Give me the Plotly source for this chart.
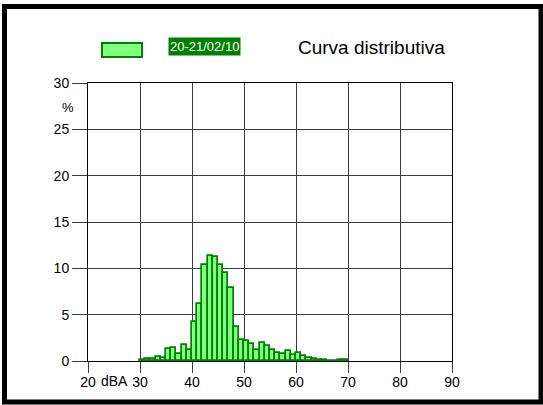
import plotly.graph_objects as go

# distribution in 1 dBA classes (lower edge), percentage of time
classes_dba = list(range(30, 70))
percent = [0.1, 0.2, 0.25, 0.4, 0.3, 1.3, 1.4, 0.8, 1.7, 1.2,
           4.2, 6.1, 10.4, 11.3, 11.2, 10.4, 9.5, 7.9, 3.7, 2.3,
           2.2, 1.8, 1.2, 1.9, 1.6, 1.2, 0.9, 0.8, 1.1, 0.7,
           0.85, 0.5, 0.3, 0.25, 0.15, 0.07, 0.05, 0.05, 0.1, 0.1]
period_label = "20-21/02/10"
title_text = "Curva distributiva"

W, H = 543, 405
L, R, T, B = 88, 91, 83, 44
pw, ph = W - L - R, H - T - B

def px(x):
    # pixel -> paper x
    return (x - L) / pw

def py(y):
    # pixel -> paper y
    return (H - B - y) / ph

fig = go.Figure()
fig.add_trace(go.Bar(
    x=[c + 0.5 for c in classes_dba],
    y=percent,
    width=1,
    marker=dict(color="#80ff80", line=dict(color="#008000", width=1.7)),
    showlegend=False,
))

font = "Liberation Sans, Arial, sans-serif"
fig.update_layout(
    width=W, height=H,
    margin=dict(l=L, r=R, t=T, b=B),
    paper_bgcolor="white", plot_bgcolor="white",
    font=dict(family=font, size=14, color="black"),
    bargap=0,
)
fig.update_xaxes(range=[20, 90], dtick=10, tick0=20, showgrid=True, gridcolor="#3a3a3a", gridwidth=1,
                 showline=True, linecolor="black", linewidth=1, mirror=True,
                 ticks="outside", ticklen=11, tickcolor="#3a3a3a", zeroline=False,
                 ticklabelstandoff=-3)
fig.update_yaxes(range=[0, 30], dtick=5, showgrid=True, gridcolor="#3a3a3a", gridwidth=1,
                 showline=True, linecolor="black", linewidth=1, mirror=True,
                 ticks="outside", ticklen=15, tickcolor="#3a3a3a", zeroline=False)

# outer frame
fig.add_shape(type="rect", xref="paper", yref="paper",
              x0=px(4.5), x1=px(541), y0=py(402), y1=py(6.5),
              line=dict(color="black", width=5), layer="above")

# legend swatch + label
fig.add_shape(type="rect", xref="paper", yref="paper",
              x0=px(102), x1=px(142), y0=py(57), y1=py(43),
              fillcolor="#80ff80", line=dict(color="#008000", width=2))
fig.add_annotation(xref="paper", yref="paper", x=px(168), y=py(47),
                   xanchor="left", yanchor="middle", text=period_label, showarrow=False,
                   font=dict(size=13, color="white"), bgcolor="#008000", borderpad=1)
fig.add_annotation(xref="paper", yref="paper", x=px(296), y=py(48),
                   xanchor="left", yanchor="middle", text=title_text, showarrow=False,
                   font=dict(size=19, color="black"))

# unit labels
fig.add_annotation(xref="paper", yref="paper", x=px(68), y=py(107),
                   xanchor="center", yanchor="middle", text="%", showarrow=False,
                   font=dict(size=13))
fig.add_annotation(xref="paper", yref="paper", x=px(114), y=py(381),
                   xanchor="center", yanchor="middle", text="dBA", showarrow=False,
                   font=dict(size=14))

fig.write_html("out.html", config={"displayModeBar": False},
               post_script="document.body.style.margin='0';document.body.style.overflow='hidden';")
